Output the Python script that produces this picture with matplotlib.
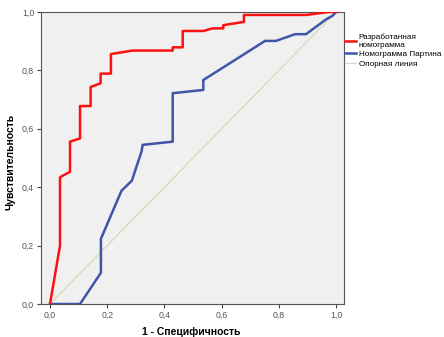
import matplotlib
matplotlib.use("Agg")
import matplotlib.pyplot as plt
from matplotlib.ticker import FuncFormatter

plt.rcParams['font.family'] = ['Liberation Sans', 'DejaVu Sans']

# Data
red_x = [0.0, 0.035, 0.035, 0.07, 0.07, 0.105, 0.105, 0.142, 0.142, 0.177, 0.177, 0.213, 0.213,
         0.289, 0.429, 0.429, 0.464, 0.464, 0.536, 0.569, 0.606, 0.606, 0.678, 0.678, 0.897, 0.973, 1.0]
red_y = [0.0, 0.2, 0.434, 0.453, 0.556, 0.567, 0.678, 0.678, 0.743, 0.756, 0.789, 0.789, 0.856,
         0.868, 0.868, 0.879, 0.879, 0.935, 0.935, 0.944, 0.944, 0.955, 0.966, 0.99, 0.99, 1.0, 1.0]

blue_x = [0.0, 0.105, 0.178, 0.178, 0.25, 0.286, 0.32, 0.324, 0.429, 0.429, 0.536, 0.536,
          0.752, 0.79, 0.857, 0.895, 0.967, 0.988, 1.0]
blue_y = [0.0, 0.0, 0.107, 0.223, 0.388, 0.422, 0.522, 0.545, 0.556, 0.722, 0.733, 0.767,
          0.901, 0.901, 0.924, 0.924, 0.976, 0.987, 1.0]

ref_x = [0.0, 1.0]
ref_y = [0.0, 1.0]

labels = ["Разработанная\nномограмма", "Номограмма Партина", "Опорная линия"]
ticks = [0.0, 0.2, 0.4, 0.6, 0.8, 1.0]

fig = plt.figure(figsize=(4.44, 3.37), dpi=100)
ax = fig.add_axes([41/444, 1 - 304/337, (344-41)/444, (304-12)/337])
ax.set_facecolor("#f0f0f0")

ax.plot(ref_x, ref_y, color="#d8d8b8", lw=0.9, label=labels[2], zorder=1)
ax.plot(blue_x, blue_y, color="#3f56a8", lw=1.8, label=labels[1], zorder=2)
ax.plot(red_x, red_y, color="#ff1010", lw=1.8, label=labels[0], zorder=3)

ax.set_xlim(-9/286, 1 + 8/286)
ax.set_ylim(0, 1)
ax.set_xticks(ticks)
ax.set_yticks(ticks)
fmt = FuncFormatter(lambda v, p: f"{v:.1f}".replace(".", ","))
ax.xaxis.set_major_formatter(fmt)
ax.yaxis.set_major_formatter(fmt)
ax.tick_params(labelsize=6.3, labelcolor="#555555", length=3, width=0.8, color="#444444", pad=2)
for s in ax.spines.values():
    s.set_color("#555555")
    s.set_linewidth(0.8)

fig.text(191/444, 1 - 332/337, "1 - Специфичность", fontsize=7.5, fontweight="bold",
         ha="center", va="center")
fig.text(11/444, 1 - 162/337, "Чувствительность", fontsize=7.5, fontweight="bold",
         ha="center", va="center", rotation=90)

h, l = ax.get_legend_handles_labels()
order = [2, 1, 0]
ax.legend([h[i] for i in order], [l[i] for i in order], loc="upper left",
          bbox_to_anchor=(1.0, 0.93), frameon=False, fontsize=5.9, handlelength=1.4,
          handletextpad=0.3, labelspacing=0.22, borderaxespad=0.0, borderpad=0.1)

fig.savefig("out.png", dpi=100)
